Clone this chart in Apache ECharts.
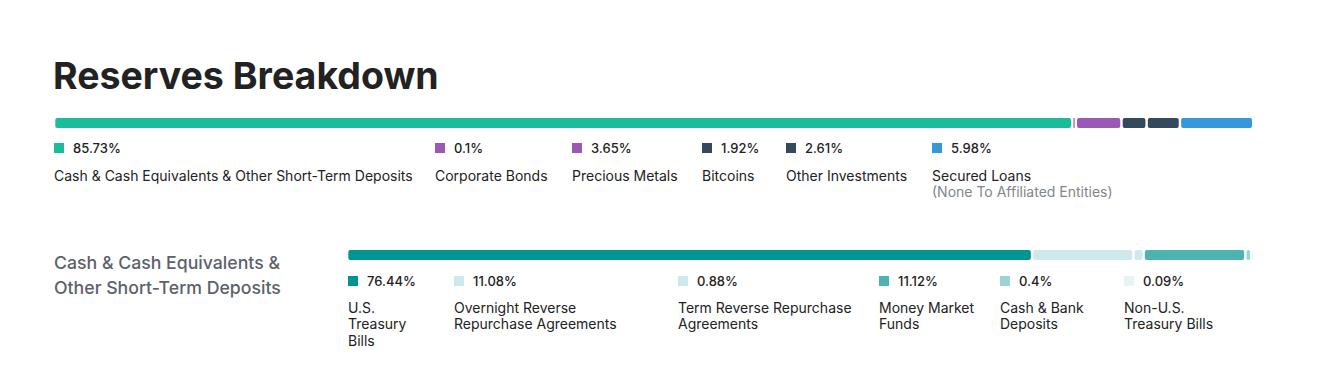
<!DOCTYPE html>
<html>
<head>
<meta charset="utf-8">
<script src="https://cdn.jsdelivr.net/npm/echarts@6/dist/echarts.min.js"></script>
<style>
html,body{margin:0;padding:0;background:#fff;}
#chart{width:1318px;height:392px;}
</style>
</head>
<body>
<div id="chart"></div>
<script>
// ---- data ----
const titleText = 'Reserves Breakdown';
const reserveCategories = ['Cash & Cash Equivalents & Other Short-Term Deposits', 'Corporate Bonds', 'Precious Metals', 'Bitcoins', 'Other Investments', 'Secured Loans'];
const reserveSubLabels = ['', '', '', '', '', '(None To Affiliated Entities)'];
const reserveValues = [85.73, 0.1, 3.65, 1.92, 2.61, 5.98];
const cashTitle = 'Cash & Cash Equivalents &\nOther Short-Term Deposits';
const cashCategories = ['U.S. Treasury Bills', 'Overnight Reverse Repurchase Agreements', 'Term Reverse Repurchase Agreements', 'Money Market Funds', 'Cash & Bank Deposits', 'Non-U.S. Treasury Bills'];
const cashValues = [76.44, 11.08, 0.88, 11.12, 0.4, 0.09];

// ---- styles / layout ----
const reserveColors = ['#1abc9c', '#9b59b6', '#9b59b6', '#34495e', '#34495e', '#3498db'];
const cashColors = ['#009590', '#cde9ea', '#cde9ea', '#4db3b1', '#9bd4d4', '#e6f4f4'];
const reserveLegendX = [54, 435, 572, 702, 786, 932];
const cashLegendX = [348, 454, 678, 879, 1000, 1124];
const cashLabelWidth = [78, 185, 185, 115, 100, 100];
const FONT = 'Inter, "Noto Sans", sans-serif';
const TEXT = '#222222';
const GAP = 2.4;      // px between segments
const BAR_H = 10;     // px bar thickness

function fmt(v) { return v + '%'; }

// build [start, end, index] items from values (cumulative stacking)
function segments(values) {
  let acc = 0;
  return values.map((v, i) => { const s = acc; acc += v; return [s, acc, i]; });
}

function segSeries(values, colors, gridIdx) {
  return {
    type: 'custom',
    xAxisIndex: gridIdx,
    yAxisIndex: gridIdx,
    silent: true,
    renderItem: function (params, api) {
      const idx = api.value(2);
      const p0 = api.coord([api.value(0), 0.5]);
      const p1 = api.coord([api.value(1), 0.5]);
      const x0 = p0[0] + idx * GAP;
      const w = Math.max(p1[0] - p0[0], 0.8);
      return {
        type: 'rect',
        shape: { x: x0, y: p0[1] - BAR_H / 2, width: w, height: BAR_H, r: Math.min(2, w / 2) },
        style: { fill: colors[idx] }
      };
    },
    encode: { x: [0, 1] },
    data: segments(values)
  };
}

const graphics = [];
graphics.push({ type: 'text', left: 53, top: 56, style: { text: titleText, font: '700 37.5px ' + FONT, fill: '#222222' } });
reserveCategories.forEach((c, i) => {
  const x = reserveLegendX[i];
  graphics.push({ type: 'rect', shape: { x: x, y: 143, width: 10, height: 10 }, style: { fill: reserveColors[i] } });
  graphics.push({ type: 'text', x: x + 19, y: 148, style: { text: fmt(reserveValues[i]), font: '500 13px ' + FONT, fill: TEXT, verticalAlign: 'middle' } });
  graphics.push({ type: 'text', x: x, y: 175, style: { text: c, font: '400 14px ' + FONT, fill: TEXT, verticalAlign: 'middle' } });
  if (reserveSubLabels[i]) {
    graphics.push({ type: 'text', x: x, y: 191, style: { text: reserveSubLabels[i], font: '400 14px ' + FONT, fill: '#80868b', verticalAlign: 'middle' } });
  }
});
graphics.push({ type: 'text', x: 54, y: 250, style: { text: cashTitle, font: '500 17.7px ' + FONT, fill: '#5b626b', lineHeight: 25 } });
cashCategories.forEach((c, i) => {
  const x = cashLegendX[i];
  graphics.push({ type: 'rect', shape: { x: x, y: 276, width: 10, height: 10 }, style: { fill: cashColors[i] } });
  graphics.push({ type: 'text', x: x + 19, y: 281, style: { text: fmt(cashValues[i]), font: '500 13px ' + FONT, fill: TEXT, verticalAlign: 'middle' } });
  graphics.push({ type: 'text', x: x, y: 299, style: { text: c, font: '400 14px ' + FONT, fill: TEXT, lineHeight: 16.5, width: cashLabelWidth[i], overflow: 'break' } });
});

const chart = echarts.init(document.getElementById('chart'), null, { renderer: 'svg' });
const sum = a => a.reduce((s, v) => s + v, 0);
chart.setOption({
  animation: false,
  backgroundColor: '#ffffff',
  grid: [
    { left: 55.3, top: 118, width: 1184.7, height: 10 },
    { left: 348.3, top: 250, width: 893, height: 10 }
  ],
  xAxis: [
    { gridIndex: 0, type: 'value', min: 0, max: sum(reserveValues), show: false },
    { gridIndex: 1, type: 'value', min: 0, max: sum(cashValues), show: false }
  ],
  yAxis: [
    { gridIndex: 0, type: 'value', min: 0, max: 1, show: false },
    { gridIndex: 1, type: 'value', min: 0, max: 1, show: false }
  ],
  series: [segSeries(reserveValues, reserveColors, 0), segSeries(cashValues, cashColors, 1)],
  graphic: graphics
});
</script>
</body>
</html>
